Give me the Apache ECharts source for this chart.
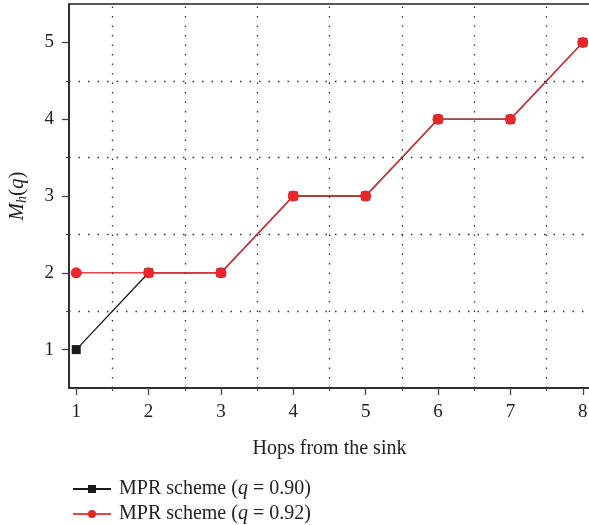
<!DOCTYPE html>
<html><head><meta charset="utf-8">
<script src="https://cdn.jsdelivr.net/npm/echarts@6/dist/echarts.min.js"></script>
<style>html,body{margin:0;padding:0;background:#fff}#c{width:589px;height:525px}</style>
</head><body><div id="c"></div>
<script>
const hops = [1, 2, 3, 4, 5, 6, 7, 8];
const mprQ090 = [1, 2, 2, 3, 3, 4, 4, 5];
const mprQ092 = [2, 2, 2, 3, 3, 4, 4, 5];
const yTicks = [1, 2, 3, 4, 5];
const xHalfTicks = [1.5, 2.5, 3.5, 4.5, 5.5, 6.5, 7.5];
const yHalfTicks = [1.5, 2.5, 3.5, 4.5];
const seriesNames = ['MPR scheme (q = 0.90)', 'MPR scheme (q = 0.92)'];
const FONT = '"Liberation Serif", "DejaVu Serif", serif';

const chart = echarts.init(document.getElementById('c'), null, {renderer: 'canvas'});
const XMIN = 0.9, XMAX = 8.1, YMIN = 0.5, YMAX = 5.5;
const dotted = {color: '#333', type: [1.5, 8], width: 1.3};
const mainAxis = (vals) => ({
  type: 'value',
  axisLine: {show: true, onZero: false, lineStyle: {color: '#222', width: 1.5}},
  axisTick: {show: true, length: 7, customValues: vals, lineStyle: {color: '#444', width: 1.3}},
  splitLine: {show: false},
  axisLabel: {color: '#222', fontFamily: FONT, fontSize: 19, margin: 15, customValues: vals}
});
const halfAxis = (vals) => ({
  type: 'value',
  axisLine: {show: false, onZero: false},
  axisTick: {show: true, length: 3, customValues: vals, lineStyle: {color: '#444', width: 1.1}},
  splitLine: {show: false},
  axisLabel: {show: false}
});
const legendBase = (name, top) => ({
  orient: 'horizontal', left: 67, top: top, itemWidth: 38, itemHeight: 10, itemGap: 10,
  textStyle: {fontFamily: FONT, fontSize: 20, color: '#222', padding: [0, 0, 0, 3],
    rich: {i: {fontFamily: FONT, fontSize: 20, fontStyle: 'italic', color: '#222'}}},
  formatter: function (n) { return n.replace('(q', '({i|q}'); },
  data: [name]
});
chart.setOption({
  animation: false,
  backgroundColor: '#fff',
  grid: {left: 69, right: -1, top: 4, bottom: 137, show: true, borderColor: '#222', borderWidth: 1.5,
         containLabel: false, outerBoundsMode: 'none'},
  legend: [legendBase(seriesNames[0], 474), legendBase(seriesNames[1], 499)],
  xAxis: [
    Object.assign(mainAxis(hops), {min: XMIN, max: XMAX, position: 'bottom',
      name: 'Hops from the sink', nameLocation: 'middle', nameGap: 51,
      nameTextStyle: {fontFamily: FONT, fontSize: 20, color: '#222'}}),
    Object.assign(halfAxis(xHalfTicks), {min: XMIN, max: XMAX, position: 'bottom'})
  ],
  yAxis: [
    Object.assign(mainAxis(yTicks), {min: YMIN, max: YMAX, position: 'left',
      name: '{m|M}{s|h}{p|(}{m|q}{p|)}', nameLocation: 'middle', nameGap: 40,
      nameTextStyle: {rich: {
        m: {fontFamily: FONT, fontSize: 21, fontStyle: 'italic', color: '#222'},
        p: {fontFamily: FONT, fontSize: 21, color: '#222'},
        s: {fontFamily: FONT, fontSize: 14, fontStyle: 'italic', color: '#222', verticalAlign: 'bottom', padding: [10, 0, 0, 0]}
      }}}),
    Object.assign(halfAxis(yHalfTicks), {min: YMIN, max: YMAX, position: 'left'})
  ],
  series: [
    {name: seriesNames[0], type: 'line', data: hops.map((h, i) => [h, mprQ090[i]]),
     symbol: 'rect', symbolSize: 9, itemStyle: {color: '#1a1a1a'},
     lineStyle: {color: '#1a1a1a', width: 1.3}, z: 3,
     markLine: {silent: true, symbol: 'none', animation: false, label: {show: false},
       lineStyle: dotted, emphasis: {disabled: true},
       data: xHalfTicks.map(v => ({xAxis: v})).concat(yHalfTicks.map(v => ({yAxis: v})))}},
    {name: seriesNames[1], type: 'line', data: hops.map((h, i) => [h, mprQ092[i]]),
     symbol: 'circle', symbolSize: 11, itemStyle: {color: '#e8272c'},
     lineStyle: {color: '#e2343a', width: 1.4, opacity: 0.92}, z: 4}
  ]
});
</script></body></html>
